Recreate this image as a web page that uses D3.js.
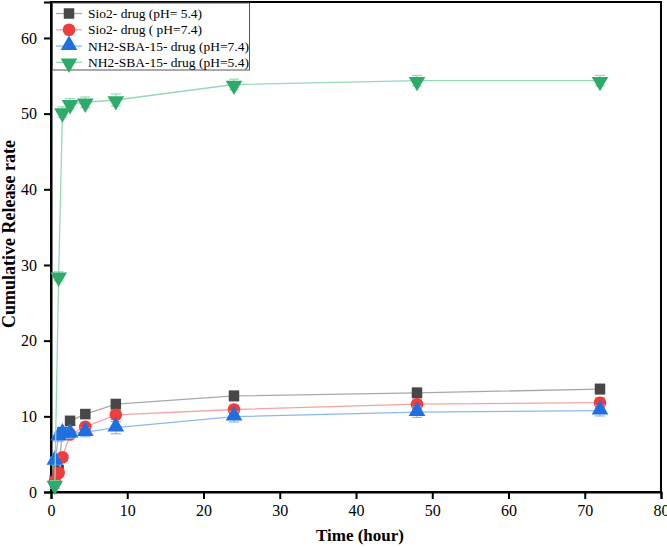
<!DOCTYPE html>
<html>
<head>
<meta charset="utf-8">
<script src="https://cdn.jsdelivr.net/npm/d3@7"></script>
<style>
  html, body { margin: 0; padding: 0; background: #fff; }
  svg { display: block; }
  text { font-family: "Liberation Serif", "Times New Roman", serif; }
</style>
</head>
<body>
<svg id="chart" width="667" height="547"></svg>
<script>
// ---- data ----
const times = [0.5, 1, 1.5, 2.5, 4.5, 8.5, 24, 48, 72];
const seriesNames = [
  "Sio2- drug (pH= 5.4)",
  "Sio2- drug ( pH=7.4)",
  "NH2-SBA-15- drug (pH=7.4)",
  "NH2-SBA-15- drug (pH=5.4)"
];
const sio2pH54 = [1.5, 2.9, 7.9, 9.4, 10.3, 11.6, 12.7, 13.1, 13.6];
const sio2pH74 = [1.4, 2.5, 4.6, 7.6, 8.6, 10.2, 10.9, 11.6, 11.8];
const nh2pH74 = [4.1, 7.3, 7.7, 7.7, 7.9, 8.5, 9.95, 10.55, 10.75];
const nh2pH54 = [1.0, 28.5, 50.2, 51.3, 51.5, 51.8, 53.85, 54.35, 54.35];
const sio2pH54Err = [0.5, 0.5, 0.6, 0.6, 0.6, 0.7, 0.7, 0.7, 0.7];
const sio2pH74Err = [0.5, 0.5, 0.5, 0.5, 0.6, 0.6, 0.6, 0.7, 0.7];
const nh2pH74Err = [0.5, 0.6, 0.6, 0.6, 0.6, 0.8, 0.7, 0.7, 0.7];
const nh2pH54Err = [0.5, 0.6, 0.7, 0.7, 0.7, 0.8, 0.7, 0.7, 0.7];
const xTicks = [0, 10, 20, 30, 40, 50, 60, 70, 80];
const yTicks = [0, 10, 20, 30, 40, 50, 60];

const seriesValues = [sio2pH54, sio2pH74, nh2pH74, nh2pH54];
const seriesErrors = [sio2pH54Err, sio2pH74Err, nh2pH74Err, nh2pH54Err];
const markerColors = ["#474747", "#f03c3c", "#1f6fe0", "#2eab6b"];
const lineColors = ["#a8a8a8", "#f5a3a3", "#8cb6f0", "#95d9b4"];
const errColors = ["#b0b0b0", "#f5a3a3", "#8cb6f0", "#95d9b4"];
const symbols = [d3.symbolSquare, d3.symbolCircle, d3.symbolTriangle, d3.symbolTriangle];
const symbolSizes = [110, 125, 120, 120];
const rotations = [0, 0, 0, 180];

// ---- layout ----
const svg = d3.select("#chart");
const pLeft = 51, pRight = 661, pTop = 2, pBottom = 492;
const x = d3.scaleLinear().domain([0, 80]).range([pLeft, pRight]);
const y = d3.scaleLinear().domain([0, 64.75]).range([pBottom, pTop]);

// frame
svg.append("rect")
  .attr("x", pLeft).attr("y", pTop)
  .attr("width", pRight - pLeft).attr("height", pBottom - pTop)
  .attr("fill", "none").attr("stroke", "#000").attr("stroke-width", 2);

// axes
const xAxis = svg.append("g").attr("transform", `translate(0,${pBottom})`)
  .call(d3.axisBottom(x).tickValues(xTicks).tickSize(7).tickPadding(6).tickFormat(d3.format("d")));
const yAxis = svg.append("g").attr("transform", `translate(${pLeft},0)`)
  .call(d3.axisLeft(y).tickValues(yTicks).tickSize(7).tickPadding(7).tickFormat(d3.format("d")));
[xAxis, yAxis].forEach(g => {
  g.select(".domain").attr("stroke", "#000").attr("stroke-width", 2);
  g.selectAll(".tick line").attr("stroke", "#000").attr("stroke-width", 2);
  g.selectAll(".tick text").attr("font-family", "Liberation Serif, Times New Roman, serif")
    .attr("font-size", 16).attr("fill", "#000");
});

// axis titles
svg.append("text")
  .attr("x", 360).attr("y", 541)
  .attr("text-anchor", "middle")
  .attr("font-size", 17).attr("font-weight", "bold")
  .text("Time (hour)");
svg.append("text")
  .attr("transform", "translate(15,234) rotate(-90)")
  .attr("text-anchor", "middle")
  .attr("font-size", 18).attr("font-weight", "bold")
  .text("Cumulative Release rate");

// series
const line = d3.line().x(d => x(d.t)).y(d => y(d.v));
seriesValues.forEach((vals, i) => {
  const pts = times.map((t, j) => ({ t, v: vals[j], e: seriesErrors[i][j] }));
  const g = svg.append("g");
  g.append("path").datum(pts).attr("d", line)
    .attr("fill", "none").attr("stroke", lineColors[i]).attr("stroke-width", 1.3);
  // error bars
  const eb = g.selectAll(".eb").data(pts).enter().append("g");
  eb.append("line")
    .attr("x1", d => x(d.t)).attr("x2", d => x(d.t))
    .attr("y1", d => y(d.v - d.e)).attr("y2", d => y(d.v + d.e))
    .attr("stroke", errColors[i]).attr("stroke-width", 1.2);
  [-1, 1].forEach(s => {
    eb.append("line")
      .attr("x1", d => x(d.t) - 5).attr("x2", d => x(d.t) + 5)
      .attr("y1", d => y(d.v + s * d.e)).attr("y2", d => y(d.v + s * d.e))
      .attr("stroke", errColors[i]).attr("stroke-width", 1.2);
  });
  g.selectAll(".m").data(pts).enter().append("path")
    .attr("d", d3.symbol().type(symbols[i]).size(symbolSizes[i]))
    .attr("transform", d => `translate(${x(d.t)},${y(d.v) + (rotations[i] ? 1 : (i === 2 ? -1 : 0))}) rotate(${rotations[i]})`)
    .attr("fill", markerColors[i]);
});

// legend
const lg = svg.append("g");
lg.append("rect").attr("x", 52.5).attr("y", 3).attr("width", 197).attr("height", 67)
  .attr("fill", "#fff").attr("stroke", "#555").attr("stroke-width", 1);
seriesNames.forEach((name, i) => {
  const cy = 13.5 + i * 16.3;
  lg.append("line").attr("x1", 56).attr("x2", 82).attr("y1", cy).attr("y2", cy)
    .attr("stroke", lineColors[i]).attr("stroke-width", 1.3);
  lg.append("path")
    .attr("d", d3.symbol().type(symbols[i]).size(symbolSizes[i]))
    .attr("transform", `translate(69,${cy + (rotations[i] ? 1 : (i === 2 ? -1 : 0))}) rotate(${rotations[i]})`)
    .attr("fill", markerColors[i]);
  lg.append("text").attr("x", 88).attr("y", cy + 4.5)
    .attr("font-size", 13.5).attr("fill", "#000").text(name);
});
</script>
</body>
</html>
